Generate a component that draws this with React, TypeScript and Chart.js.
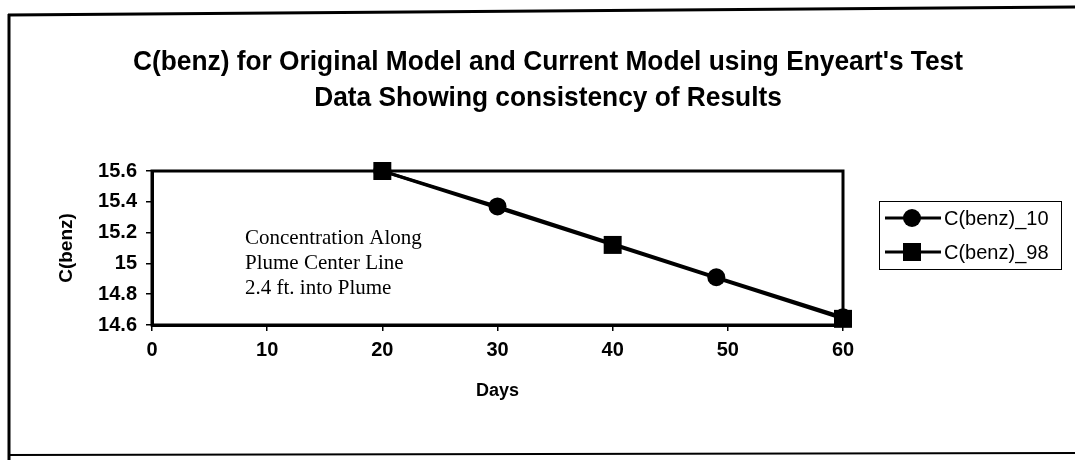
import React, { useEffect, useRef } from "react";
import { Chart, registerables } from "chart.js";

Chart.register(...registerables);

const titleLines = [
  "C(benz) for Original Model and Current Model using Enyeart's Test",
  "Data Showing consistency of Results",
];
const noteLines = ["Concentration Along", "Plume Center Line", "2.4 ft. into Plume"];
const xTitle = "Days";
const yTitle = "C(benz)";
const xTickValues = [0, 10, 20, 30, 40, 50, 60];
const yTickValues = [14.6, 14.8, 15, 15.2, 15.4, 15.6];
const seriesLabels = ["C(benz)_10", "C(benz)_98"];
const series10Days = [20, 30, 49, 60];
const series10Values = [15.6, 15.37, 14.91, 14.65];
const series98Days = [20, 40, 60];
const series98Values = [15.6, 15.12, 14.64];

const SANS = "'Liberation Sans', Arial, sans-serif";
const SERIF = "'Liberation Serif', 'Times New Roman', serif";

const decor = {
  id: "decor",
  beforeDraw(chart: any) {
    const ctx = chart.ctx;
    ctx.save();
    ctx.fillStyle = "#fff";
    ctx.fillRect(0, 0, chart.width, chart.height);
    ctx.strokeStyle = "#000";
    ctx.lineWidth = 3;
    ctx.beginPath();
    ctx.moveTo(9, 14);
    ctx.lineTo(9, 460);
    ctx.moveTo(8, 15);
    ctx.lineTo(1075, 7);
    ctx.stroke();
    ctx.lineWidth = 2;
    ctx.beginPath();
    ctx.moveTo(8, 455);
    ctx.lineTo(1075, 453);
    ctx.stroke();
    ctx.restore();
  },
  beforeDatasetsDraw(chart: any) {
    const ctx = chart.ctx;
    const a = chart.chartArea;
    ctx.save();
    ctx.strokeStyle = "#000";
    ctx.lineWidth = 3;
    ctx.strokeRect(a.left, a.top, a.right - a.left, a.bottom - a.top);
    ctx.restore();
  },
  afterDraw(chart: any) {
    const ctx = chart.ctx;
    ctx.save();
    ctx.fillStyle = "#000";
    // title
    ctx.font = `bold 28px ${SANS}`;
    ctx.textAlign = "center";
    ctx.textBaseline = "middle";
    const w1 = ctx.measureText(titleLines[0]).width;
    const sx = 830 / w1;
    const ys = [62, 98];
    titleLines.forEach((t, i) => {
      ctx.save();
      ctx.translate(548, ys[i]);
      ctx.scale(sx, 1);
      ctx.fillText(t, 0, 0);
      ctx.restore();
    });
    // note
    ctx.font = `21px ${SERIF}`;
    ctx.textAlign = "left";
    noteLines.forEach((t, i) => ctx.fillText(t, 245, 238 + i * 25));
    // legend
    ctx.lineWidth = 1;
    ctx.strokeStyle = "#000";
    ctx.strokeRect(879.5, 201.5, 182, 68);
    const styles = ["circle", "rect"];
    seriesLabels.forEach((lab, i) => {
      const y = 218 + i * 34;
      ctx.lineWidth = 3;
      ctx.beginPath();
      ctx.moveTo(885, y);
      ctx.lineTo(941, y);
      ctx.stroke();
      if (styles[i] === "circle") {
        ctx.beginPath();
        ctx.arc(912, y, 9, 0, Math.PI * 2);
        ctx.fill();
      } else {
        ctx.fillRect(903, y - 9, 18, 18);
      }
      ctx.font = `20px ${SANS}`;
      ctx.textAlign = "left";
      ctx.fillText(lab, 944, y + 1);
    });
    ctx.restore();
  },
};

export default function App() {
  const ref = useRef<HTMLCanvasElement | null>(null);
  useEffect(() => {
    if (!ref.current) return;
    const chart = new Chart(ref.current, {
      type: "line",
      data: {
        datasets: [
          {
            label: seriesLabels[1],
            data: series98Days.map((d, i) => ({ x: d, y: series98Values[i] })),
            borderColor: "#000",
            backgroundColor: "#000",
            borderWidth: 3,
            pointStyle: "rect",
            pointRadius: 12.7,
            pointBackgroundColor: "#000",
            pointBorderColor: "#000",
            pointBorderWidth: 0,
            clip: false,
            order: 0,
          },
          {
            label: seriesLabels[0],
            data: series10Days.map((d, i) => ({ x: d, y: series10Values[i] })),
            borderColor: "#000",
            backgroundColor: "#000",
            borderWidth: 3,
            pointStyle: "circle",
            pointRadius: 9,
            pointBackgroundColor: "#000",
            pointBorderColor: "#000",
            pointBorderWidth: 0,
            clip: false,
            order: 1,
          },
        ],
      },
      options: {
        animation: false,
        responsive: false,
        devicePixelRatio: 1,
        layout: { padding: { left: 55, top: 171, right: 232, bottom: 58 } },
        plugins: { legend: { display: false }, tooltip: { enabled: false } },
        scales: {
          x: {
            type: "linear",
            min: 0,
            max: 60,
            afterBuildTicks: (s: any) => {
              s.ticks = xTickValues.map((v) => ({ value: v }));
            },
            afterFit: (s: any) => {
              s.height = 77;
            },
            ticks: {
              color: "#000",
              font: { family: SANS, size: 20, weight: "bold" },
              padding: 7,
              maxRotation: 0,
            },
            grid: { drawOnChartArea: false, drawTicks: true, tickLength: 6, color: "#000", lineWidth: 1.5 },
            border: { display: true, color: "#000", width: 3 },
            title: {
              display: true,
              text: xTitle,
              color: "#000",
              font: { family: SANS, size: 18, weight: "bold" },
              padding: 0,
            },
          },
          y: {
            type: "linear",
            min: 14.6,
            max: 15.6,
            afterBuildTicks: (s: any) => {
              s.ticks = yTickValues.map((v) => ({ value: v }));
            },
            afterFit: (s: any) => {
              s.width = 97;
            },
            ticks: {
              color: "#000",
              font: { family: SANS, size: 20, weight: "bold" },
              padding: 9,
              callback: (v: any) => String(v),
            },
            grid: { drawOnChartArea: false, drawTicks: true, tickLength: 6, color: "#000", lineWidth: 1.5 },
            border: { display: true, color: "#000", width: 3 },
            title: {
              display: true,
              text: yTitle,
              color: "#000",
              font: { family: SANS, size: 19, weight: "bold" },
              padding: 0,
            },
          },
        },
      },
      plugins: [decor],
    });
    return () => chart.destroy();
  }, []);
  return (
    <div style={{ position: "fixed", left: 0, top: 0, width: 1075, height: 460, background: "#fff" }}>
      <canvas ref={ref} width={1075} height={460} style={{ width: 1075, height: 460, display: "block" }} />
    </div>
  );
}
